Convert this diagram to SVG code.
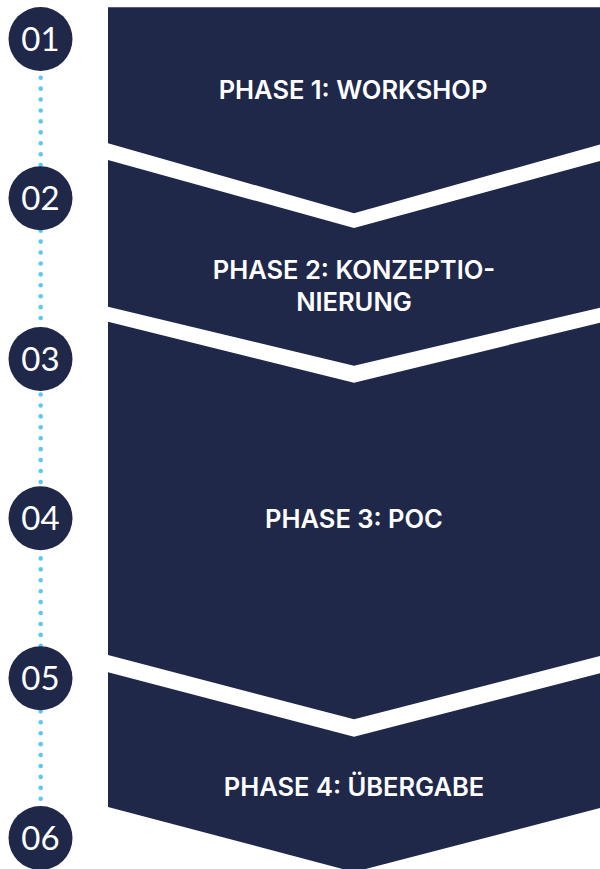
<svg xmlns="http://www.w3.org/2000/svg" width="600" height="869" viewBox="0 0 600 869">
<style>
.shape{fill:#20284a}
.circ{fill:#20284a}
.lbl{font-family:Inter,"Liberation Sans",sans-serif;font-weight:600;font-size:25.5px;fill:#ffffff;text-anchor:middle}
.num{font-family:Lato,"Open Sans",sans-serif;font-weight:400;font-size:33px;fill:#ffffff;text-anchor:middle}
.dots{stroke:#5ac8f5;stroke-width:4.6;stroke-linecap:round;stroke-dasharray:0 10.925;fill:none}
</style>
<rect width="600" height="869" fill="#ffffff"/>
<g id="connectors">
<line class="dots" x1="40.7" y1="12.15" x2="40.7" y2="838"/>
</g>
<g id="phase1">
<polygon class="shape" points="108,7.3 604,7.3 604,143.3 354,213.3 108,143.3"/>
<text class="lbl" x="353" y="99.3">PHASE 1: WORKSHOP</text>
</g>
<g id="phase2">
<polygon class="shape" points="108,160 354,228 604,160 604,306.7 354,365.7 108,306.7"/>
<text class="lbl" x="354" y="279.3">PHASE 2: KONZEPTIO-</text>
<text class="lbl" x="354" y="311">NIERUNG</text>
</g>
<g id="phase3">
<polygon class="shape" points="108,321.7 354,382.7 604,321.7 604,655 354,719.3 108,655"/>
<text class="lbl" x="354" y="528.3">PHASE 3: POC</text>
</g>
<g id="phase4">
<polygon class="shape" points="108,672.3 354,736.7 604,672.3 604,807 354,872 108,807"/>
<text class="lbl" x="354" y="796">PHASE 4: ÜBERGABE</text>
</g>
<g id="step01"><circle class="circ" cx="40.5" cy="39" r="32"/><text class="num" x="40.5" y="51">01</text></g>
<g id="step02"><circle class="circ" cx="40.5" cy="198.3" r="32"/><text class="num" x="40.5" y="210.3">02</text></g>
<g id="step03"><circle class="circ" cx="40.5" cy="359" r="32"/><text class="num" x="40.5" y="371">03</text></g>
<g id="step04"><circle class="circ" cx="40.5" cy="518.3" r="32"/><text class="num" x="40.5" y="530.3">04</text></g>
<g id="step05"><circle class="circ" cx="40.5" cy="678.3" r="32"/><text class="num" x="40.5" y="690.3">05</text></g>
<g id="step06"><circle class="circ" cx="40.5" cy="838" r="32"/><text class="num" x="40.5" y="850">06</text></g>
</svg>
